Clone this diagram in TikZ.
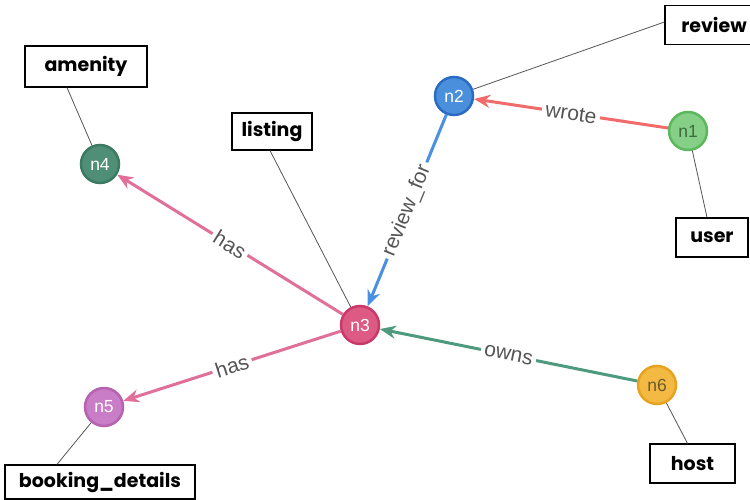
\documentclass[tikz,border=0pt]{standalone}
\usepackage{fontspec}
\setmainfont{Liberation Sans}
\newfontfamily\boxfont{Poppins}
\usetikzlibrary{arrows.meta}
\definecolor{gfill}{HTML}{86CF86}\definecolor{gdraw}{HTML}{5CB85C}\definecolor{gtext}{HTML}{3D6B3D}
\definecolor{bfill}{HTML}{4A8FDC}\definecolor{bdraw}{HTML}{2A6CC4}
\definecolor{rfill}{HTML}{DC5A84}\definecolor{rdraw}{HTML}{C93A6A}
\definecolor{tfill}{HTML}{4F8F78}\definecolor{tdraw}{HTML}{3D7A64}
\definecolor{pfill}{HTML}{C97DC6}\definecolor{pdraw}{HTML}{B563B0}
\definecolor{yfill}{HTML}{F4B942}\definecolor{ydraw}{HTML}{E6A320}\definecolor{ytext}{HTML}{6B5A2E}
\definecolor{wrotec}{HTML}{F26B6B}
\definecolor{reviewc}{HTML}{4A90E2}
\definecolor{hasc}{HTML}{E0709A}
\definecolor{ownsc}{HTML}{4E9A7E}
\definecolor{labgray}{HTML}{555555}
\definecolor{leadgray}{HTML}{555555}
\begin{document}
\begin{tikzpicture}[x=1pt,y=-1pt,
  vert/.style={circle, line width=2.5pt, minimum size=38pt, inner sep=0pt,
    font=\fontsize{17.5}{17.5}\selectfont, text=white},
  tag/.style={draw=black, line width=1.2pt, fill=white,
    font=\boxfont\bfseries\fontsize{19}{19}\selectfont, inner sep=0pt, minimum height=39pt},
  rel/.style={line width=3pt, -{Stealth[length=16pt,width=13pt]}},
  rlab/.style={sloped, fill=white, inner sep=3.5pt, text=labgray,
    font=\fontsize{21}{21}\selectfont},
  leader/.style={draw=leadgray, line width=0.8pt}
]
\useasboundingbox (0,0) rectangle (750,500);
\clip (0,0) rectangle (750,500);

% vertices
\node[vert, fill=gfill, draw=gdraw, text=gtext] (n1) at (688,131) {n1};
\node[vert, fill=bfill, draw=bdraw] (n2) at (454,96) {n2};
\node[vert, fill=rfill, draw=rdraw] (n3) at (360,325) {n3};
\node[vert, fill=tfill, draw=tdraw] (n4) at (100,164) {n4};
\node[vert, fill=pfill, draw=pdraw] (n5) at (104,407) {n5};
\node[vert, fill=yfill, draw=ydraw, text=ytext] (n6) at (657,385) {n6};

% type boxes
\node[tag, minimum width=98pt] (review) at (714,25) {review};
\node[tag, minimum width=122pt, minimum height=41pt] (amenity) at (86,66.5) {amenity};
\node[tag, minimum width=80pt, minimum height=37pt] (listing) at (272,131.5) {listing};
\node[tag, minimum width=72pt] (user) at (712,237.5) {user};
\node[tag, minimum width=190pt, minimum height=34pt] (booking) at (100,482) {booking\_details};
\node[tag, minimum width=85pt] (host) at (692.5,463.5) {host};

% leaders
\draw[leader] (n2) -- ([yshift=3pt]review.west);
\draw[leader] (n4) -- ([xshift=-19pt]amenity.south);
\draw[leader] (n3) -- ([xshift=-2pt]listing.south);
\draw[leader] (n1) -- ([xshift=-5pt]user.north);
\draw[leader] (n5) -- ([xshift=-43pt]booking.north);
\draw[leader] (n6) -- ([xshift=-5pt]host.north);

% relations
\draw[rel, draw=wrotec, fill=wrotec] (n1) -- node[rlab] {wrote} (n2);
\draw[rel, draw=reviewc, fill=reviewc] (n2) -- node[rlab] {review\_for} (n3);
\draw[rel, draw=hasc, fill=hasc] (n3) -- node[rlab] {has} (n4);
\draw[rel, draw=hasc, fill=hasc] (n3) -- node[rlab] {has} (n5);
\draw[rel, draw=ownsc, fill=ownsc] (n6) -- node[rlab] {owns} (n3);
\end{tikzpicture}
\end{document}
